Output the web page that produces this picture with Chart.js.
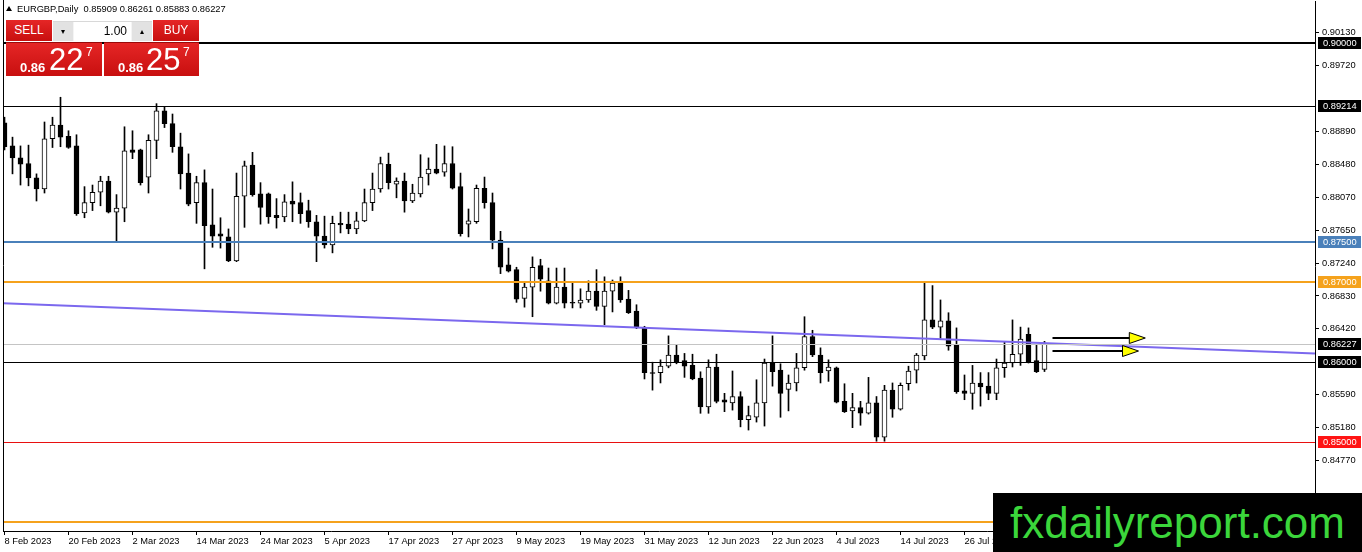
<!DOCTYPE html>
<html><head><meta charset="utf-8">
<script src="https://cdn.jsdelivr.net/npm/chart.js@4.4.0/dist/chart.umd.min.js"></script>
<style>
html,body{margin:0;padding:0;background:#fff;overflow:hidden;}
#wrap{position:relative;width:1362px;height:552px;font-family:"Liberation Sans",Arial,sans-serif;}
canvas{position:absolute;left:0;top:0;}
#title{position:absolute;left:6px;top:3px;font-size:9.3px;color:#000;white-space:pre;line-height:12px;}
#title .tri{display:inline-block;width:0;height:0;border-left:3px solid transparent;border-right:3px solid transparent;border-bottom:5px solid #000;margin-right:5px;vertical-align:1px;}
.red{position:absolute;background:linear-gradient(#e52626,#c80f0f);color:#fff;}
.btn{font-size:12px;text-align:center;line-height:21px;height:21px;}
#sell{left:6px;top:20px;width:46px;}
#buy{left:153px;top:20px;width:46px;}
#ctrl{position:absolute;left:53px;top:21px;width:99px;height:19px;background:#f4f4f4;border-top:1px solid #d8d8d8;}
#ctrl .a{position:absolute;top:0;width:20px;height:19px;background:#e2e2e2;font-size:8px;line-height:19px;text-align:center;color:#000;}
#lot{position:absolute;left:21px;top:0;width:57px;height:19px;background:#fff;font-size:12px;line-height:19px;text-align:right;box-sizing:border-box;padding-right:4px;color:#000;}
.price{top:42px;height:34px;border-top:1px solid #9a0a0a;box-sizing:border-box;}
#sp{left:6px;width:96px;}
#bp{left:104px;width:95px;}
.price span{position:absolute;white-space:nowrap;}
.price .s{font-size:13px;font-weight:bold;top:17px;}
.price .b{font-size:31px;top:-1px;}
.price .u{font-size:12px;top:2px;}
#wm{position:absolute;left:993px;top:493px;width:369px;height:59px;background:#000;color:#3bd63b;font-size:44px;line-height:59px;text-align:center;white-space:nowrap;}
</style></head><body>
<div id="wrap">
<canvas id="c" width="1362" height="552"></canvas>
<div id="title"><span class="tri"></span>EURGBP,Daily  0.85909 0.86261 0.85883 0.86227</div>
<div class="red btn" id="sell">SELL</div>
<div id="ctrl"><div class="a" style="left:0">&#9662;</div><div id="lot">1.00</div><div class="a" style="left:79px">&#9652;</div></div>
<div class="red btn" id="buy">BUY</div>
<div class="red price" id="sp"><span class="s" style="left:14px">0.86</span><span class="b" style="left:43px">22</span><span class="u" style="left:80px">7</span></div>
<div class="red price" id="bp"><span class="s" style="left:14px">0.86</span><span class="b" style="left:42px">25</span><span class="u" style="left:79px">7</span></div>
<div id="wm">fxdailyreport.com</div>
</div>
<script>
// ---- data ----
const dateLabels = ['8 Feb 2023','20 Feb 2023','2 Mar 2023','14 Mar 2023','24 Mar 2023','5 Apr 2023','17 Apr 2023','27 Apr 2023','9 May 2023','19 May 2023','31 May 2023','12 Jun 2023','22 Jun 2023','4 Jul 2023','14 Jul 2023','26 Jul 2023'];
const tickBars = [0,8,16,24,32,40,48,56,64,72,80,88,96,104,112,120];
const yTickValues = [0.90130,0.89720,0.88890,0.88480,0.88070,0.87650,0.87240,0.86830,0.86420,0.85590,0.85180,0.84770];

const opens = [0.8900,0.8871,0.8856,0.8849,0.8831,0.8817,0.8880,0.8897,0.8883,0.8871,
0.8787,0.8800,0.8813,0.8827,0.8788,0.8793,0.8866,0.8866,0.8832,0.8878,
0.8915,0.8899,0.8870,0.8837,0.8800,0.8825,0.8772,0.8761,0.8757,0.8727,
0.8808,0.8847,0.8811,0.8811,0.8784,0.8782,0.8802,0.8800,0.8790,0.8776,
0.8758,0.8747,0.8774,0.8773,0.8767,0.8777,0.8800,0.8817,0.8848,0.8823,
0.8827,0.8802,0.8811,0.8836,0.8842,0.8838,0.8849,0.8820,0.8773,0.8776,
0.8818,0.8800,0.8753,0.8722,0.8716,0.8680,0.8694,0.8721,0.8702,0.8674,
0.8694,0.8675,0.8674,0.8678,0.8689,0.8670,0.8689,0.8699,0.8679,0.8664,
0.8643,0.8587,0.8587,0.8595,0.8609,0.8602,0.8596,0.8580,0.8544,0.8594,
0.8553,0.8549,0.8557,0.8528,0.8531,0.8549,0.8599,0.8590,0.8566,0.8574,
0.8593,0.8632,0.8609,0.8589,0.8593,0.8551,0.8539,0.8543,0.8536,0.8549,
0.8506,0.8565,0.8541,0.8573,0.8590,0.8608,0.8653,0.8644,0.8652,0.8621,
0.8564,0.8561,0.8574,0.8570,0.8561,0.8593,0.8599,0.8610,0.8635,0.8602,
0.85909];
const highs = [0.8907,0.8882,0.8871,0.8872,0.8836,0.8901,0.8907,0.8932,0.8890,0.8885,
0.8820,0.8822,0.8833,0.8833,0.8810,0.8895,0.8890,0.8867,0.8885,0.8924,
0.8920,0.8911,0.8887,0.8861,0.8833,0.8841,0.8817,0.8781,0.8767,0.8837,
0.8852,0.8863,0.8825,0.8812,0.8805,0.8810,0.8826,0.8812,0.8803,0.8784,
0.8783,0.8783,0.8788,0.8788,0.8788,0.8817,0.8837,0.8857,0.8862,0.8831,
0.8837,0.8823,0.8860,0.8856,0.8873,0.8871,0.8870,0.8837,0.8792,0.8822,
0.8832,0.8812,0.8764,0.8743,0.8719,0.8699,0.8732,0.8729,0.8718,0.8718,
0.8718,0.8699,0.8692,0.8702,0.8716,0.8707,0.8703,0.8707,0.8690,0.8672,
0.8645,0.8600,0.8603,0.8633,0.8622,0.8611,0.8610,0.8588,0.8603,0.8610,
0.8561,0.8589,0.8563,0.8545,0.8578,0.8604,0.8633,0.8598,0.8584,0.8611,
0.8657,0.8640,0.8618,0.8603,0.8594,0.8573,0.8561,0.8551,0.8581,0.8557,
0.8571,0.8574,0.8574,0.8595,0.8611,0.8699,0.8696,0.8678,0.8662,0.8643,
0.8584,0.8596,0.8587,0.8587,0.8604,0.8625,0.8653,0.8644,0.8643,0.8622,
0.86261];
const lows = [0.8866,0.8836,0.8822,0.8821,0.8802,0.8812,0.8869,0.8870,0.8868,0.8784,
0.8781,0.8790,0.8796,0.8787,0.8752,0.8776,0.8855,0.8822,0.8812,0.8855,
0.8894,0.8863,0.8817,0.8796,0.8774,0.8717,0.8744,0.8743,0.8726,0.8726,
0.8769,0.8808,0.8773,0.8774,0.8768,0.8776,0.8776,0.8774,0.8769,0.8726,
0.8743,0.8737,0.8762,0.8761,0.8761,0.8776,0.8790,0.8813,0.8817,0.8806,
0.8788,0.8800,0.8807,0.8822,0.8836,0.8833,0.8817,0.8758,0.8757,0.8774,
0.8793,0.8742,0.8711,0.8713,0.8675,0.8669,0.8657,0.8689,0.8673,0.8673,
0.8668,0.8668,0.8668,0.8675,0.8665,0.8647,0.8663,0.8675,0.8661,0.8642,
0.8579,0.8565,0.8574,0.8593,0.8598,0.8581,0.8578,0.8536,0.8536,0.8549,
0.8538,0.8540,0.8519,0.8515,0.8525,0.8520,0.8570,0.8531,0.8539,0.8564,
0.8590,0.8607,0.8574,0.8576,0.8549,0.8537,0.8518,0.8521,0.8535,0.8501,
0.8501,0.8531,0.8540,0.8565,0.8574,0.8603,0.8642,0.8630,0.8615,0.8561,
0.8553,0.8541,0.8545,0.8553,0.8553,0.8581,0.8594,0.8596,0.8599,0.8587,
0.85883];
const closes = [0.8870,0.8856,0.8848,0.8831,0.8817,0.8880,0.8897,0.8882,0.8869,0.8786,
0.8800,0.8813,0.8827,0.8788,0.8793,0.8865,0.8863,0.8825,0.8878,0.8915,
0.8899,0.8870,0.8836,0.8798,0.8825,0.8771,0.8758,0.8758,0.8727,0.8808,
0.8846,0.8810,0.8794,0.8782,0.8781,0.8801,0.8798,0.8786,0.8776,0.8758,
0.8747,0.8774,0.8772,0.8767,0.8777,0.8800,0.8817,0.8849,0.8825,0.8827,
0.8802,0.8812,0.8832,0.8842,0.8837,0.8849,0.8818,0.8761,0.8777,0.8818,
0.8800,0.8753,0.8719,0.8714,0.8679,0.8694,0.8719,0.8704,0.8674,0.8694,
0.8674,0.8674,0.8678,0.8689,0.8670,0.8689,0.8699,0.8678,0.8662,0.8644,
0.8587,0.8586,0.8595,0.8609,0.8600,0.8595,0.8579,0.8544,0.8594,0.8551,
0.8550,0.8557,0.8528,0.8533,0.8549,0.8599,0.8588,0.8561,0.8574,0.8593,
0.8632,0.8609,0.8587,0.8594,0.8550,0.8538,0.8543,0.8536,0.8549,0.8506,
0.8565,0.8541,0.8571,0.8589,0.8609,0.8653,0.8644,0.8652,0.8620,0.8563,
0.8561,0.8574,0.8569,0.8561,0.8593,0.8599,0.8610,0.8629,0.8600,0.8588,
0.86227];

const levelPrices = [0.90000,0.89214,0.87500,0.87000,0.86227,0.86000,0.85000,0.84000];
const trendX = [-0.1875, 163.8125];
const trendY = [0.8674, 0.8611];
const arrowFromX = [131, 131];
const arrowToX = [142.6, 141.75];
const arrowY = [0.8630, 0.8614];

// ---- styles ----
const levelStyle = {
  color: ['#000000','#000000','#4a80ba','#f5a21c','#c4c4c4','#000000','#e81010','#f5a21c'],
  width: [2,1,2,2,1,1,1,2],
  labelBg: ['#000000','#000000','#4a80ba','#f5a21c','#000000','#000000','#ff1414','#f5a21c']
};
const FONT = {family:'"Liberation Sans", Arial, sans-serif', size:9.3};

const bodyData = opens.map((o,i)=>({x:i, y:[o, closes[i]]}));
const wickData = lows.map((l,i)=>({x:i, y:[l, highs[i]]}));
const bodyFill = opens.map((o,i)=> closes[i] >= o ? '#ffffff' : '#000000');

const overlay = {
  id:'overlay',
  afterDatasetsDraw(chart){
    const {ctx, chartArea:a, scales:{x, y}} = chart;
    ctx.save();
    ctx.beginPath(); ctx.rect(a.left, a.top, a.right-a.left, a.bottom-a.top); ctx.clip();
    levelPrices.forEach((p,i)=>{
      const w = levelStyle.width[i];
      let py = Math.round(y.getPixelForValue(p));
      if (w % 2 === 1) py += 0.5;
      ctx.strokeStyle = levelStyle.color[i]; ctx.lineWidth = w;
      ctx.beginPath(); ctx.moveTo(a.left, py); ctx.lineTo(a.right, py); ctx.stroke();
    });
    ctx.restore();
    // left frame
    ctx.save();
    ctx.strokeStyle = '#000'; ctx.lineWidth = 1;
    ctx.beginPath(); ctx.moveTo(a.left+0.5, 0); ctx.lineTo(a.left+0.5, a.bottom); ctx.stroke();
    // arrows
    arrowY.forEach((p,i)=>{
      const y0 = Math.round(y.getPixelForValue(p));
      const x0 = x.getPixelForValue(arrowFromX[i]);
      const x1 = x.getPixelForValue(arrowToX[i]);
      ctx.strokeStyle = '#000'; ctx.lineWidth = 2;
      ctx.beginPath(); ctx.moveTo(x0, y0); ctx.lineTo(x1-15, y0); ctx.stroke();
      ctx.beginPath(); ctx.moveTo(x1-16, y0-5.5); ctx.lineTo(x1, y0); ctx.lineTo(x1-16, y0+5.5); ctx.closePath();
      ctx.fillStyle = '#ffff00'; ctx.fill(); ctx.lineWidth = 1; ctx.stroke();
    });
    // price labels
    ctx.font = FONT.size + 'px ' + FONT.family;
    ctx.textBaseline = 'middle'; ctx.textAlign = 'left';
    levelPrices.forEach((p,i)=>{
      const py = Math.round(y.getPixelForValue(p));
      ctx.fillStyle = levelStyle.labelBg[i];
      ctx.fillRect(a.right+3, py-6, 43, 12);
      ctx.fillStyle = '#ffffff';
      ctx.fillText(p.toFixed(5), a.right+8, py+0.5);
    });
    ctx.restore();
  }
};

new Chart(document.getElementById('c'), {
  type:'bar',
  data:{
    datasets:[
      {type:'line', data: trendX.map((v,i)=>({x:v, y:trendY[i]})), borderColor:'#7b68ee', borderWidth:2, pointRadius:0, order:0},
      {data: bodyData, backgroundColor: bodyFill, borderColor:'#000', borderWidth:1, borderSkipped:false, barThickness:5, grouped:false, order:1},
      {data: wickData, backgroundColor:'#000', borderWidth:0, barThickness:1, grouped:false, order:2}
    ]
  },
  options:{
    responsive:false, animation:false, devicePixelRatio:1,
    layout:{padding:{left:3, top:1, right:0, bottom:0}},
    plugins:{legend:{display:false}, tooltip:{enabled:false}},
    scales:{
      x:{type:'linear', position:'bottom', min:-0.1875, max:163.8125, offset:false,
         afterBuildTicks: s => { s.ticks = tickBars.map(v=>({value:v})); },
         afterFit: s => { s.height = 21; s.paddingLeft = 0; s.paddingRight = 0; },
         grid:{drawOnChartArea:false, drawTicks:true, tickLength:4, color:'#000', offset:false},
         border:{color:'#000', width:1},
         ticks:{autoSkip:false, maxRotation:0, align:'start', padding:1, color:'#000', font:FONT,
                callback:(v,i)=>dateLabels[i]}
      },
      y:{type:'linear', position:'right', min:0.83885, max:0.90526,
         afterBuildTicks: s => { s.ticks = yTickValues.map(v=>({value:v})); },
         afterFit: s => { s.width = 47; s.paddingTop = 0; s.paddingBottom = 0; },
         grid:{drawOnChartArea:false, drawTicks:true, tickLength:4, color:'#000'},
         border:{color:'#000', width:1},
         ticks:{padding:3, color:'#000', font:FONT, callback:v=>Number(v).toFixed(5)}
      }
    }
  },
  plugins:[overlay]
});
</script>
</body></html>
